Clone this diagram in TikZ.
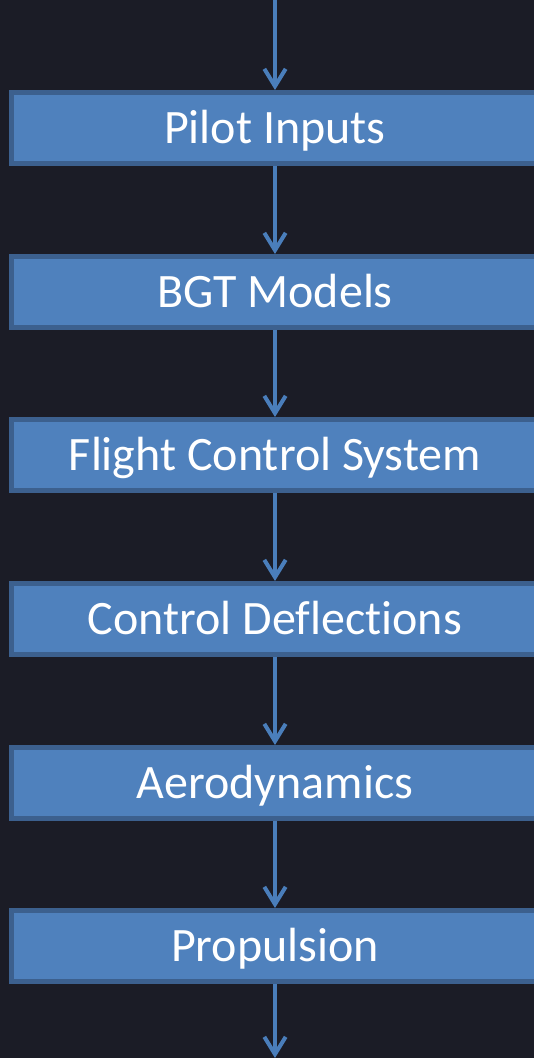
\documentclass[tikz,border=0pt]{standalone}
\usepackage{fontspec}
\setmainfont{Carlito}[Ligatures={NoCommon}]
\usetikzlibrary{arrows.meta}
\definecolor{bgc}{RGB}{27,28,38}
\definecolor{boxfill}{RGB}{79,129,189}
\definecolor{boxline}{RGB}{60,96,142}
\definecolor{arrc}{RGB}{74,126,187}
\tikzset{
  flowbox/.style={rectangle, fill=boxfill, draw=boxline, line width=3.75pt,
    minimum width=395.25pt, minimum height=53.25pt, inner sep=0pt,
    text height=30pt, text depth=7.5pt,
    text=white, font=\fontsize{36}{40}\selectfont},
  flowarrow/.style={draw=arrc, line width=3pt,
    -{Straight Barb[length=13pt,width=16pt,line width=3pt]}}
}
\begin{document}
\begin{tikzpicture}[x=0.75pt,y=-0.75pt]
\useasboundingbox (0,0) rectangle (534,1058);
\fill[bgc] (0,0) rectangle (534,1058);
\clip (0,0) rectangle (534,1058);
\coordinate (ax) at (275,0);
\coordinate (ab) at (275,1058);
\node[flowbox] (pilot) at (275,128) {Pilot Inputs};
\node[flowbox] (bgt) at (275,292) {BGT Models};
\node[flowbox] (fcs) at (275,455) {Flight Control System};
\node[flowbox] (cd) at (275,619) {Control Deflections};
\node[flowbox] (aero) at (275,783) {Aerodynamics};
\node[flowbox] (prop) at (275,946) {Propulsion};
\draw[flowarrow] (ax) -- (pilot.north);
\draw[flowarrow] (pilot.south) -- (bgt.north);
\draw[flowarrow] (bgt.south) -- (fcs.north);
\draw[flowarrow] (fcs.south) -- (cd.north);
\draw[flowarrow] (cd.south) -- (aero.north);
\draw[flowarrow] (aero.south) -- (prop.north);
\draw[flowarrow] (prop.south) -- (ab);
\end{tikzpicture}
\end{document}
